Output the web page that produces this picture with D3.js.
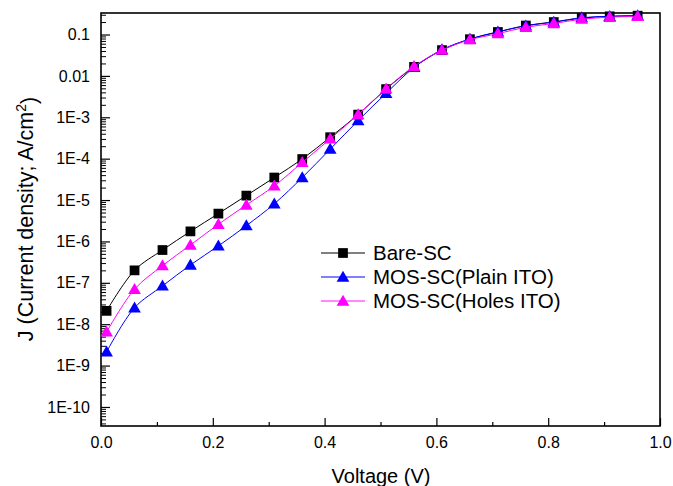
<!DOCTYPE html>
<html>
<head>
    <script src="https://d3js.org/d3.v7.min.js"></script>
    <style>
        body { margin: 0; background: #fff; }
        svg text { font-family: Arial, "Liberation Sans", sans-serif; fill: #000; }
    </style>
</head>
<body>
<div id="chart"></div>
<script>
    var voltage = [0.01, 0.06, 0.11, 0.16, 0.21, 0.26, 0.31, 0.36, 0.41, 0.46,
                   0.51, 0.56, 0.61, 0.66, 0.71, 0.76, 0.81, 0.86, 0.91, 0.96];

    var bareSC = [2.1e-8, 2.0e-7, 6.2e-7, 1.75e-6, 4.7e-6, 1.28e-5, 3.5e-5, 9.8e-5, 3.3e-4, 1.16e-3,
                  4.8e-3, 0.0165, 0.042, 0.077, 0.115, 0.165, 0.2, 0.25, 0.275, 0.285];
    var plainITO = [2.15e-9, 2.5e-8, 8.4e-8, 2.7e-7, 7.8e-7, 2.4e-6, 8.1e-6, 3.5e-5, 1.7e-4, 8.3e-4,
                    3.8e-3, 0.016, 0.043, 0.078, 0.116, 0.163, 0.2, 0.255, 0.275, 0.285];
    var holesITO = [6.5e-9, 7.0e-8, 2.6e-7, 8.2e-7, 2.6e-6, 7.6e-6, 2.2e-5, 8.1e-5, 3.0e-4, 1.16e-3,
                    4.9e-3, 0.017, 0.042, 0.075, 0.105, 0.15, 0.185, 0.235, 0.262, 0.275];

    var seriesNames = ["Bare-SC", "MOS-SC(Plain ITO)", "MOS-SC(Holes ITO)"];
    var seriesColors = ["#000000", "#0000ff", "#ff00ff"];
    var seriesMarkers = ["square", "triangle", "triangle"];
    var seriesData = [bareSC, plainITO, holesITO];

    var xTicks = [0.0, 0.2, 0.4, 0.6, 0.8, 1.0];
    var yTickExps = [-1, -2, -3, -4, -5, -6, -7, -8, -9, -10];
    var yTickLabels = ["0.1", "0.01", "1E-3", "1E-4", "1E-5", "1E-6", "1E-7", "1E-8", "1E-9", "1E-10"];

    var width = 673, height = 486;
    var plotLeft = 101, plotRight = 660, plotTop = 13, plotBottom = 426;

    var svg = d3.select("#chart").append("svg")
        .attr("width", width)
        .attr("height", height);

    var x = d3.scaleLinear().domain([0, 1]).range([plotLeft, plotRight]);
    var y = d3.scaleLog().domain([Math.pow(10, -10.46), Math.pow(10, -0.48)]).range([plotBottom, plotTop]);

    // minor ticks x
    svg.append("g")
        .attr("transform", "translate(0," + plotBottom + ")")
        .call(d3.axisBottom(x).tickValues(d3.range(0.1, 1.0, 0.2)).tickSizeInner(-4).tickSizeOuter(0).tickFormat(""))
        .call(function(g) { g.select(".domain").remove(); g.selectAll("line").attr("stroke-width", 1.2); });

    // major ticks x
    svg.append("g")
        .attr("transform", "translate(0," + plotBottom + ")")
        .call(d3.axisBottom(x).tickValues(xTicks).tickSizeInner(-8).tickSizeOuter(0).tickPadding(11)
            .tickFormat(d3.format(".1f")))
        .call(function(g) {
            g.select(".domain").remove();
            g.selectAll("line").attr("stroke-width", 1.2);
            g.selectAll("text").attr("font-size", 16);
        });

    // minor ticks y
    var minorY = [];
    for (var e = -11; e <= -1; e++) {
        for (var m = 2; m <= 9; m++) {
            var v = m * Math.pow(10, e);
            if (v > y.domain()[0] && v < y.domain()[1]) minorY.push(v);
        }
    }
    svg.append("g")
        .attr("transform", "translate(" + plotLeft + ",0)")
        .call(d3.axisLeft(y).tickValues(minorY).tickSizeInner(-5).tickSizeOuter(0).tickFormat(""))
        .call(function(g) { g.select(".domain").remove(); g.selectAll("line").attr("stroke-width", 1); });

    // major ticks y
    svg.append("g")
        .attr("transform", "translate(" + plotLeft + ",0)")
        .call(d3.axisLeft(y).tickValues(yTickExps.map(function(d) { return Math.pow(10, d); }))
            .tickSizeInner(-9).tickSizeOuter(0).tickPadding(11)
            .tickFormat(function(d, i) { return yTickLabels[i]; }))
        .call(function(g) {
            g.select(".domain").remove();
            g.selectAll("line").attr("stroke-width", 1.2);
            g.selectAll("text").attr("font-size", 16);
        });

    // frame
    svg.append("rect")
        .attr("x", plotLeft).attr("y", plotTop)
        .attr("width", plotRight - plotLeft).attr("height", plotBottom - plotTop)
        .attr("fill", "none").attr("stroke", "#000").attr("stroke-width", 1.6);

    var line = d3.line()
        .x(function(d) { return x(d[0]); })
        .y(function(d) { return y(d[1]); })
        .curve(d3.curveCatmullRom);

    var tri = d3.symbol().type(d3.symbolTriangle).size(70);
    var sq = d3.symbol().type(d3.symbolSquare).size(95);

    // draw in order: black, blue, magenta on top
    seriesData.forEach(function(vals, k) {
        var pts = voltage.map(function(v, i) { return [v, vals[i]]; });
        var g = svg.append("g");
        g.append("path")
            .attr("d", line(pts))
            .attr("fill", "none")
            .attr("stroke", seriesColors[k])
            .attr("stroke-width", 1);
        g.selectAll(".pt").data(pts).enter().append("path")
            .attr("class", "pt")
            .attr("transform", function(d) { return "translate(" + x(d[0]) + "," + (y(d[1]) + (seriesMarkers[k] == "triangle" ? 1 : 0)) + ")"; })
            .attr("d", seriesMarkers[k] == "square" ? sq : tri)
            .attr("fill", seriesColors[k]);
    });

    // legend
    var legend = svg.append("g");
    seriesNames.forEach(function(name, k) {
        var ly = 253 + k * 24;
        legend.append("line")
            .attr("x1", 321).attr("x2", 365)
            .attr("y1", ly).attr("y2", ly)
            .attr("stroke", k == 2 ? "#ff88ff" : seriesColors[k])
            .attr("stroke-width", k == 2 ? 2 : 1);
        legend.append("path")
            .attr("transform", "translate(343," + (ly + (seriesMarkers[k] == "triangle" ? 1 : 0)) + ")")
            .attr("d", seriesMarkers[k] == "square" ? sq : tri)
            .attr("fill", seriesColors[k]);
        legend.append("text")
            .attr("x", 373).attr("y", ly)
            .attr("dy", "0.35em")
            .attr("font-size", 20.5)
            .text(name);
    });

    // axis titles
    svg.append("text")
        .attr("x", 381)
        .attr("y", 476)
        .attr("dy", "0.35em")
        .attr("text-anchor", "middle")
        .attr("font-size", 20)
        .text("Voltage (V)");

    var yt = svg.append("text")
        .attr("transform", "translate(25,219) rotate(-90)")
        .attr("text-anchor", "middle")
        .attr("dy", "0.35em")
        .attr("font-size", 21.5);
    yt.append("tspan").text("J (Current density; A/cm");
    yt.append("tspan").attr("dy", "-0.5em").attr("font-size", 14).text("2");
    yt.append("tspan").attr("dy", "0.5em").text(")");
</script>
</body>
</html>
